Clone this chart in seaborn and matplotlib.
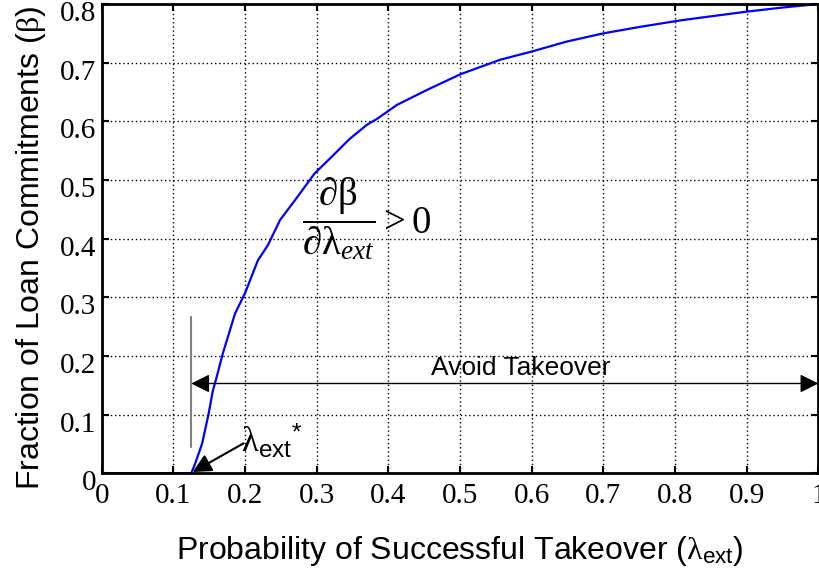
import matplotlib
matplotlib.use('Agg')
import matplotlib.pyplot as plt
import matplotlib.transforms as mtransforms
import pandas as pd
import seaborn as sns

# 读取的数据
prob_takeover = [0.0, 0.125, 0.13, 0.14, 0.149, 0.155, 0.160, 0.169, 0.186, 0.200,
                 0.218, 0.232, 0.249, 0.270, 0.297, 0.323, 0.346, 0.370, 0.384, 0.412,
                 0.453, 0.500, 0.556, 0.600, 0.649, 0.700, 0.751, 0.807, 0.85, 0.9,
                 0.95, 1.0]
loan_fraction = [0.0, 0.0, 0.015, 0.05, 0.10, 0.14, 0.162, 0.204, 0.272, 0.307,
                 0.363, 0.389, 0.432, 0.466, 0.511, 0.542, 0.570, 0.594, 0.604, 0.628,
                 0.653, 0.680, 0.705, 0.719, 0.736, 0.750, 0.761, 0.772, 0.779, 0.787,
                 0.794, 0.8]
x_ticks = [0, 0.1, 0.2, 0.3, 0.4, 0.5, 0.6, 0.7, 0.8, 0.9, 1.0]
x_tick_labels = ['0', '0.1', '0.2', '0.3', '0.4', '0.5', '0.6', '0.7', '0.8', '0.9', '1']
y_ticks = [0, 0.1, 0.2, 0.3, 0.4, 0.5, 0.6, 0.7, 0.8]
y_tick_labels = ['0', '0.1', '0.2', '0.3', '0.4', '0.5', '0.6', '0.7', '0.8']
lambda_star = 0.125
avoid_level = 0.153
marker_low, marker_high = 0.044, 0.266

sns.set_style('ticks')
plt.rcParams['font.family'] = ['Liberation Sans', 'DejaVu Sans']
plt.rcParams['text.color'] = 'k'
plt.rcParams['axes.labelcolor'] = 'k'
plt.rcParams['mathtext.fontset'] = 'custom'
plt.rcParams['mathtext.rm'] = 'Liberation Serif'
plt.rcParams['mathtext.it'] = 'Liberation Serif:italic'
plt.rcParams['mathtext.sf'] = 'Liberation Sans'
plt.rcParams['mathtext.fallback'] = 'stix'

df = pd.DataFrame({'x': prob_takeover, 'y': loan_fraction})

fig = plt.figure(figsize=(8.2, 5.75), dpi=100)
ax = fig.add_axes([0.124, 0.177, 0.874, 0.816])
sns.lineplot(data=df, x='x', y='y', color='#0000ff', linewidth=1.6, ax=ax)

ax.set_xlim(0, 1)
ax.set_ylim(0, 0.8)
ax.set_xticks(x_ticks)
ax.set_xticklabels(x_tick_labels, fontfamily='Liberation Serif', fontsize=21)
ax.set_yticks(y_ticks)
ax.set_yticklabels(y_tick_labels, fontfamily='Liberation Serif', fontsize=21)
ax.tick_params(direction='in', length=5, width=1.5, top=True, right=True,
               colors='k', labelcolor='k')
ax.tick_params(axis='x', pad=7)
ax.tick_params(axis='y', pad=4)
# y刻度标签稍微下移 (like the reference)
shift = mtransforms.ScaledTranslation(0, -7 / 100, fig.dpi_scale_trans)
for lbl in ax.get_yticklabels():
    lbl.set_transform(lbl.get_transform() + shift)
ax.grid(True, color='k', linestyle=(0, (1, 2)), linewidth=1)
for s in ax.spines.values():
    s.set_linewidth(2)
    s.set_color('k')

ax.set_xlabel(r'Probability of Successful Takeover ($\mathrm{\lambda}_{\mathsf{ext}}$)',
              fontsize=23, labelpad=18)
ax.set_ylabel(r'Fraction of Loan Commitments ($\mathrm{\beta}$)', fontsize=23)
ax.yaxis.set_label_coords(-0.075, 0.48)

# 标注
ax.plot([lambda_star, lambda_star], [marker_low, marker_high], color='gray', linewidth=1.5)
ax.annotate('', xy=(lambda_star, avoid_level), xytext=(1.0, avoid_level),
            arrowprops=dict(arrowstyle='<|-|>', color='k', linewidth=1,
                            mutation_scale=28, shrinkA=0, shrinkB=0),
            annotation_clip=False)
ax.text(0.585, 0.179, 'Avoid Takeover', fontsize=19, ha='center', va='center')

ax.annotate('', xy=(0.127, 0.002), xytext=(0.198, 0.051),
            arrowprops=dict(arrowstyle='-|>', color='k', linewidth=1.5,
                            mutation_scale=28, shrinkA=0, shrinkB=0))
ax.text(0.195, 0.055, r'$\mathrm{\lambda}_{\mathsf{ext}}{}^{\mathsf{*}}$', fontsize=25,
        ha='left', va='center')

ax.text(0.37, 0.435,
        r'$\dfrac{\mathrm{\partial\beta}}{\mathrm{\partial\lambda}_{ext}} > 0$',
        fontsize=28, ha='center', va='center')

fig.savefig('out.png', dpi=100)
